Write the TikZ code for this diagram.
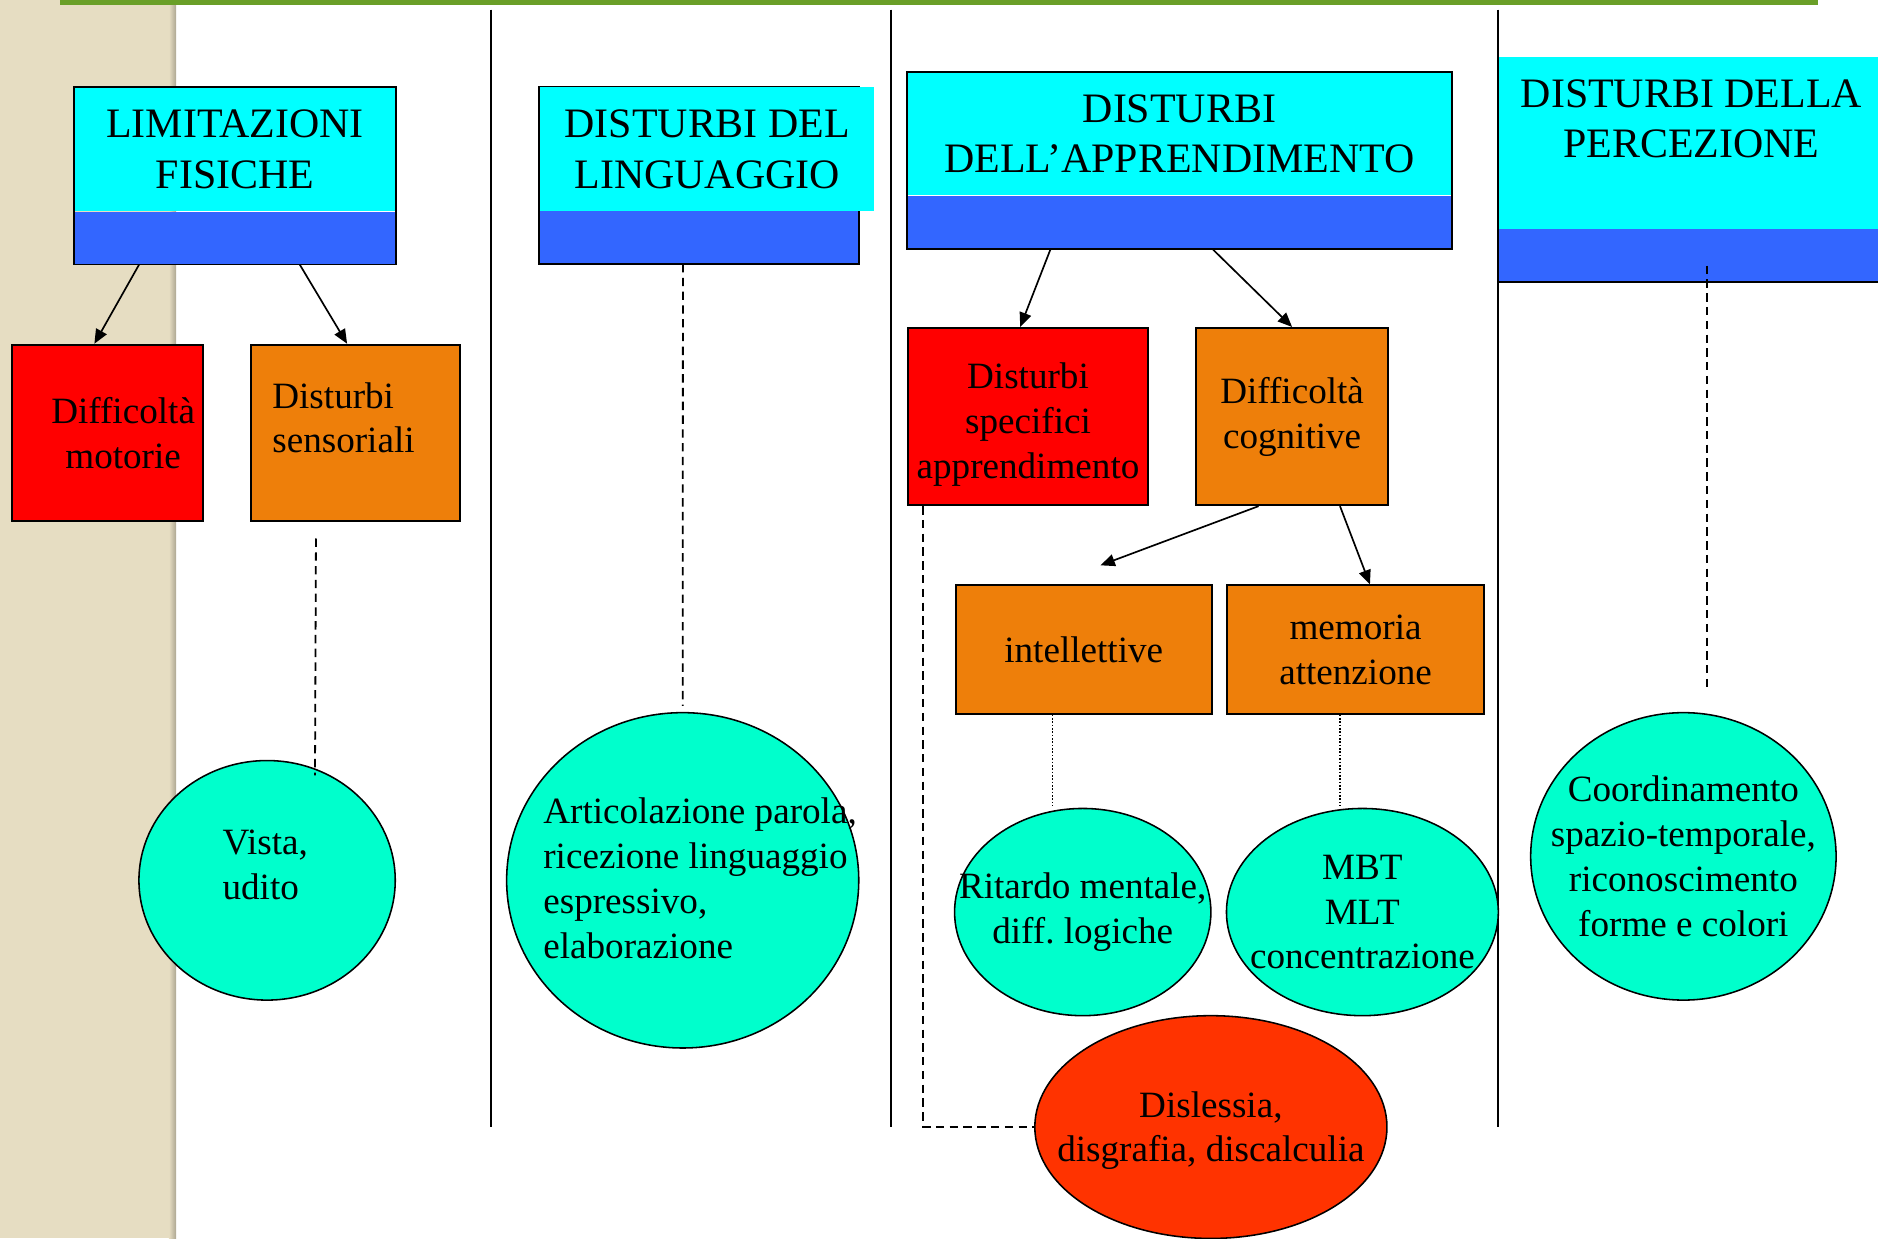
\documentclass[tikz,border=0pt]{standalone}
\usepackage{fontspec}
\setmainfont{Liberation Serif}
\usepackage{tikz}
\usetikzlibrary{arrows.meta,positioning,shapes.geometric,calc}
\definecolor{HeadCyan}{HTML}{00FFFF}
\definecolor{HeadBlue}{HTML}{3366FF}
\definecolor{BoxRed}{HTML}{FF0000}
\definecolor{BoxOrange}{HTML}{EE7F0A}
\definecolor{BallTurq}{HTML}{00FFCC}
\definecolor{BallRed}{HTML}{FF3300}
\definecolor{BarGreen}{HTML}{6A9F28}
\definecolor{SideBeige}{HTML}{E6DDC2}
\newcommand{\bodyfont}{\fontsize{31}{37.5}\selectfont}
\newcommand{\headfont}{\fontsize{35}{42.5}\selectfont}
\tikzset{
  head/.style={fill=HeadCyan, inner sep=0pt, anchor=north west, align=center, font=\headfont},
  headtext/.style={inner sep=0pt, align=center, font=\headfont},
  band/.style={fill=HeadBlue, inner sep=0pt, anchor=north west, minimum height=44},
  sqbox/.style={draw, line width=1.6pt, inner sep=0pt, anchor=north west, align=center, font=\bodyfont},
  boxtext/.style={inner sep=0pt, align=center, font=\bodyfont},
  ball/.style={ellipse, draw, line width=1.3pt, fill=BallTurq, inner sep=0pt},
  arr/.style={line width=1.4pt, -{Triangle[length=12pt,width=10pt]}},
  dashline/.style={line width=1.5pt, dash pattern=on 7pt off 4.5pt},
  dotline/.style={line width=1.1pt, dash pattern=on 1.4pt off 1.4pt},
  sepline/.style={line width=1.8pt},
}

\begin{document}
\begin{tikzpicture}[x=1pt,y=-1pt]
  \useasboundingbox (0,0) rectangle (1568,1034);
  \clip (0,0) rectangle (1568,1034);
  % side strip, top bar, column separators
  \fill[SideBeige] (0,0) rectangle (147,1034);
  \shade[left color=SideBeige, right color=SideBeige!75!black] (141,0) rectangle (147,1034);
  \fill[BarGreen] (50,0) rectangle (1518,4);
  \foreach \xx in {410,744,1251}
    \draw[sepline] (\xx,8) -- (\xx,941);

  % limitazioni fisiche
  \node[head, minimum width=268, minimum height=103] (fisTop) at (62,73) {LIMITAZIONI\\FISICHE};
  \node[band, minimum width=268] (fis) at (fisTop.south west) {};
  \draw[line width=1.6pt] (fisTop.north west) rectangle (fis.south east);
  \node[sqbox, fill=BoxRed, minimum width=160, minimum height=147,
    label={[boxtext, xshift=13pt]center:{Difficoltà\\motorie}}] (mot) at (9,287) {};
  \node[sqbox, fill=BoxOrange, minimum width=174, minimum height=147,
    label={[boxtext, align=left, xshift=-10pt, yshift=12.5pt]center:{Disturbi\\sensoriali}}] (sens) at (209,287) {};
  \node[ball, minimum width=214, minimum height=200,
    label={[boxtext, align=left, xshift=-1.5pt, yshift=13pt]center:{Vista,\\udito}}] (vista) at (223,735) {};
  \draw[arr] ([xshift=-80pt]fis.south) -- ([xshift=-11pt]mot.north);
  \draw[arr] ([xshift=54pt]fis.south) -- ([xshift=-7pt]sens.north);
  \draw[dashline] ([xshift=-33pt,yshift=-14pt]sens.south) -- ([xshift=40pt,yshift=-13pt]vista.north);

  % linguaggio
  \node[band, minimum width=267] (lin) at (450,176) {};
  \draw[line width=1.6pt] ([yshift=103pt]lin.north west) rectangle (lin.south east);
  \node[head, anchor=south west, minimum width=279, minimum height=103] (linTop)
    at ([xshift=0.8pt]lin.north west) {DISTURBI DEL\\LINGUAGGIO};
  \node[ball, minimum width=294, minimum height=280,
    label={[boxtext, align=left, xshift=14.5pt, yshift=2pt]center:{Articolazione parola,\\ricezione linguaggio\\espressivo,\\elaborazione}}] (artic) at (570,735) {};
  \draw[dashline] ([xshift=-13.5pt]lin.south) -- ([yshift=5pt]artic.north);

  % apprendimento
  \node[head, minimum width=455, minimum height=103] (appTop) at (757,60) {DISTURBI\\DELL’APPRENDIMENTO};
  \node[band, minimum width=455] (app) at (appTop.south west) {};
  \draw[line width=1.6pt] (appTop.north west) rectangle (app.south east);
  \node[sqbox, fill=BoxRed, minimum width=201, minimum height=148,
    label={[boxtext, yshift=-7pt]center:{Disturbi\\specifici\\apprendimento}}] (dsa) at (757,273) {};
  \node[sqbox, fill=BoxOrange, minimum width=160, minimum height=148] (cog) at (998,273) {Difficoltà\\cognitive};
  \node[sqbox, fill=BoxOrange, minimum width=214, minimum height=107] (int) at (797,488) {intellettive};
  \node[sqbox, fill=BoxOrange, minimum width=214, minimum height=107] (mem) at (1024,488) {memoria\\attenzione};
  \node[ball, minimum width=214, minimum height=173,
    label={[boxtext]center:{Ritardo mentale,\\diff.\ logiche}}] (rit) at (904,761.5) {};
  \node[ball, minimum width=227, minimum height=173,
    label={[boxtext]center:{MBT\\MLT\\concentrazione}}] (mbt) at (1137.5,761.5) {};
  \node[ball, fill=BallRed, minimum width=294, minimum height=186,
    label={[boxtext, yshift=-3pt]center:{Dislessia,\\disgrafia, discalculia}}] (disl) at (1011,941) {};
  \draw[arr] ([xshift=-107.5pt]app.south) -- ([xshift=-6.5pt]dsa.north);
  \draw[arr] ([xshift=27.5pt]app.south) -- (cog.north);
  \draw[arr] ([xshift=-28pt]cog.south) -- ([xshift=14pt,yshift=16pt]int.north);
  \draw[arr] ([xshift=40pt]cog.south) -- ([xshift=12pt]mem.north);
  \draw[dotline] ([xshift=-26pt]int.south) -- ([xshift=-26pt,yshift=2pt]int.south |- rit.north);
  \draw[dotline] ([xshift=-13pt]mem.south) -- ([xshift=-13pt,yshift=2pt]mem.south |- mbt.north);
  \draw[dashline] ([xshift=-87.5pt]dsa.south) |- (disl.west);

  % percezione
  \node[head, minimum width=322, minimum height=144,
    label={[headtext, yshift=20pt]center:{DISTURBI DELLA\\PERCEZIONE}}] (perTop) at (1251,47) {};
  \node[band, minimum width=322] (per) at (perTop.south west) {};
  \draw[line width=1.6pt] (per.south west) -- (per.south east);
  \node[ball, minimum width=255, minimum height=240,
    label={[boxtext]center:{Coordinamento\\spazio-temporale,\\riconoscimento\\forme e colori}}] (coord) at (1405.5,715) {};
  \draw[dashline] ([xshift=19.5pt,yshift=14pt]coord.north |- per.south) -- ([xshift=19.5pt,yshift=18pt]coord.north);
\end{tikzpicture}
\end{document}
